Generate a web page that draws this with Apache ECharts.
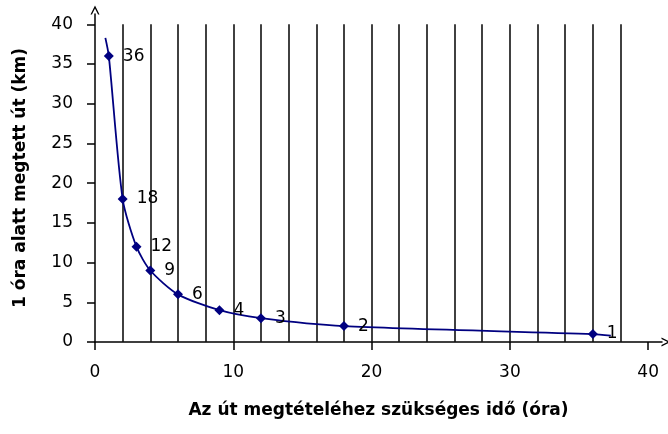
<!DOCTYPE html>
<html>
<head>
<meta charset="utf-8">
<script src="https://cdn.jsdelivr.net/npm/echarts@6/dist/echarts.min.js"></script>
<style>html,body{margin:0;padding:0;background:#fff}#c{width:668px;height:434px}</style>
</head>
<body>
<div id="c"></div>
<script>
// Data
const hours = [1, 2, 3, 4, 6, 9, 12, 18, 36];
const kmPerHour = [36, 18, 12, 9, 6, 4, 3, 2, 1];
const curveStart = [0.75, 38.3];
const curveEnd = [37.3, 0.8];
const gridX = [2, 4, 6, 8, 10, 12, 14, 16, 18, 20, 22, 24, 26, 28, 30, 32, 34, 36, 38];
const xTicks = [0, 10, 20, 30, 40];
const yTicks = [0, 5, 10, 15, 20, 25, 30, 35, 40];
const xTitle = 'Az út megtételéhez szükséges idő (óra)';
const yTitle = '1 óra alatt megtett út (km)';

const FONT = 'DejaVu Sans';
const chevron = 'path://M0,10 L5,0 L10,10 L8.4,10 L5,3.2 L1.6,10 Z';

const curveData = [
  { value: curveStart, symbol: 'none', label: { show: false } }
].concat(hours.map((h, i) => ({ value: [h, kmPerHour[i]] })))
 .concat([{ value: curveEnd, symbol: 'none', label: { show: false } }]);

const chart = echarts.init(document.getElementById('c'));
chart.setOption({
  animation: false,
  backgroundColor: '#fff',
  grid: { left: 95, right: 6, top: 14, bottom: 92, containLabel: false },
  xAxis: {
    type: 'value', min: 0, max: 41,
    name: xTitle, nameLocation: 'middle', nameGap: 60,
    nameTextStyle: { fontFamily: FONT, fontWeight: 'bold', fontSize: 17, color: '#000' },
    axisLine: { show: true, onZero: false, lineStyle: { color: '#000', width: 1.5 },
      symbol: ['none', chevron], symbolSize: [12, 9], symbolOffset: [0, 4] },
    axisTick: { show: true, inside: false, length: 8, customValues: xTicks, lineStyle: { color: '#000', width: 1.5 } },
    axisLabel: { customValues: xTicks, margin: 22, fontFamily: FONT, fontSize: 17, color: '#000' },
    splitLine: { show: false }
  },
  yAxis: {
    type: 'value', min: 0, max: 41.3,
    name: yTitle, nameLocation: 'middle', nameGap: 66, nameRotate: 90,
    nameTextStyle: { fontFamily: FONT, fontWeight: 'bold', fontSize: 17, color: '#000' },
    axisLine: { show: true, onZero: false, lineStyle: { color: '#000', width: 1.5 },
      symbol: ['none', chevron], symbolSize: [12, 9], symbolOffset: [0, 4] },
    axisTick: { show: true, inside: false, length: 8, customValues: yTicks, lineStyle: { color: '#000', width: 1.5 } },
    axisLabel: { customValues: yTicks, margin: 22, fontFamily: FONT, fontSize: 17, color: '#000' },
    splitLine: { show: false }
  },
  series: [
    {
      type: 'line', data: [], silent: true, z: 1,
      markLine: {
        silent: true, symbol: ['none', 'none'], label: { show: false },
        lineStyle: { color: '#111', width: 1.6, type: 'solid' },
        data: gridX.map(v => [{ coord: [v, 0] }, { coord: [v, yTicks[yTicks.length - 1]] }])
      }
    },
    {
      type: 'line', data: curveData, z: 5,
      smooth: 0.25,
      symbol: 'diamond', symbolSize: 10, showAllSymbol: true,
      lineStyle: { color: '#000080', width: 1.8 },
      itemStyle: { color: '#000080' },
      label: {
        show: true, position: 'right', distance: 9,
        fontFamily: FONT, fontSize: 17, color: '#000',
        formatter: p => String(p.value[1])
      }
    }
  ]
});
</script>
</body>
</html>
